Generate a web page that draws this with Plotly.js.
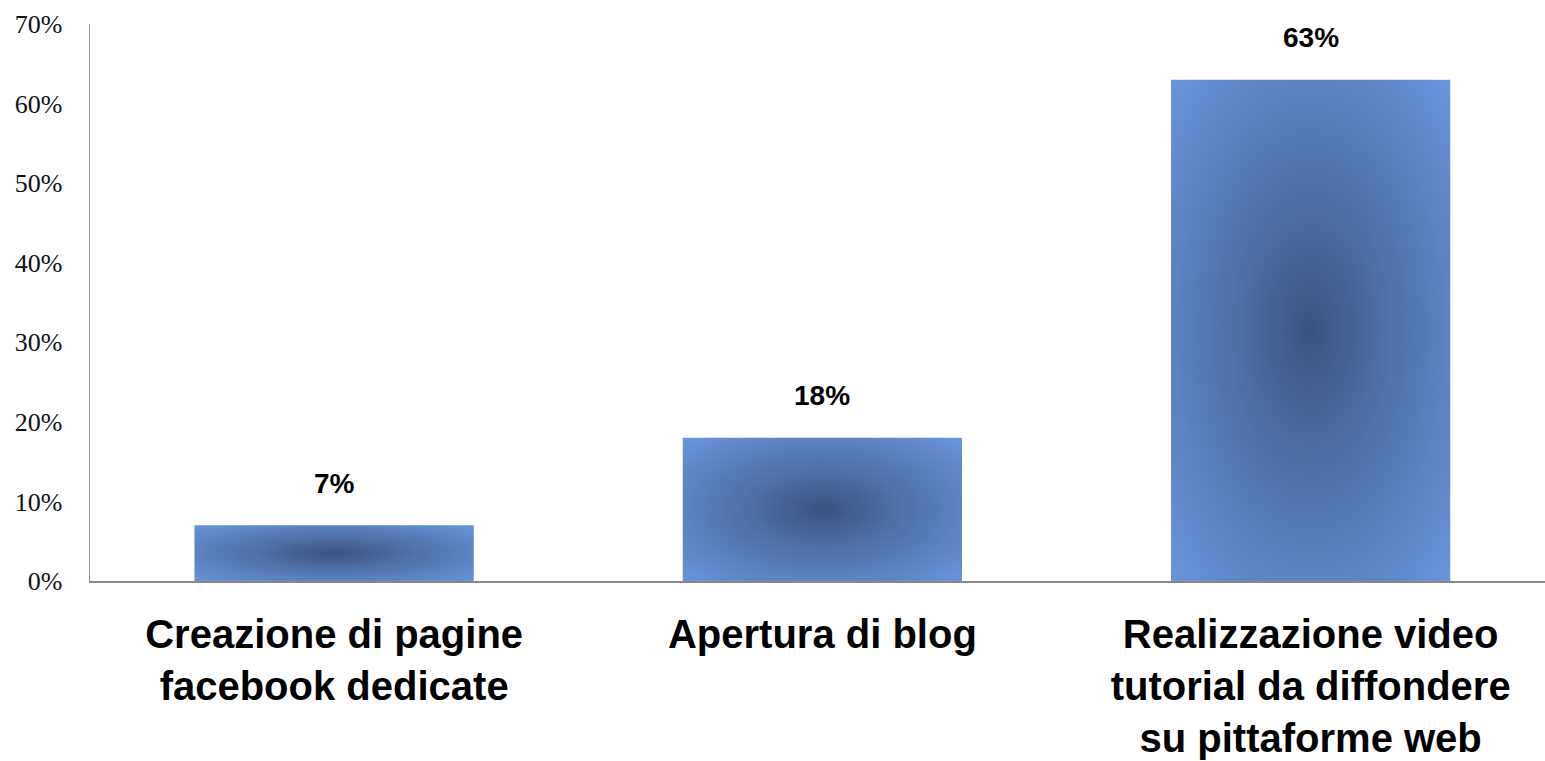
<!DOCTYPE html>
<html>
<head>
<meta charset="utf-8">
<script src="https://cdn.plot.ly/plotly-3.0.1.min.js"></script>
<style>html,body{margin:0;padding:0;background:#fff;}#chart{width:1545px;height:761px;}</style>
</head>
<body>
<div id="chart"></div>
<script>
const categories = [
  "Creazione di pagine<br>facebook dedicate",
  "Apertura di blog",
  "Realizzazione video<br>tutorial da diffondere<br>su pittaforme web"
];
const values = [7, 18, 63];
const valueLabels = ["7%", "18%", "63%"];

const trace = {
  type: 'bar',
  x: categories,
  y: values,
  marker: {color: '#5a80bc', line: {width: 0}},
  hoverinfo: 'none'
};

const annotations = categories.map((c, i) => ({
  x: c, y: values[i], text: valueLabels[i],
  showarrow: false, yanchor: 'middle', yshift: 42,
  font: {family: 'Liberation Sans, Arial, sans-serif', size: 28, color: '#000', weight: 'bold'}
}));

const layout = {
  width: 1545, height: 761,
  margin: {l: 90, r: 0, t: 24, b: 180},
  paper_bgcolor: '#fff', plot_bgcolor: '#fff',
  showlegend: false,
  bargap: 0.428,
  xaxis: {
    range: [-0.5, 2.48],
    showline: true, linecolor: '#888888', linewidth: 2,
    showgrid: false, zeroline: false, ticks: '',
    ticklabelstandoff: 17,
    tickfont: {family: 'Liberation Sans, Arial, sans-serif', size: 40, color: '#000', weight: 'bold'}
  },
  yaxis: {
    range: [0, 70], dtick: 10, ticksuffix: '%',
    showline: true, linecolor: '#999999', linewidth: 1.5,
    showgrid: false, zeroline: false, ticks: '',
    ticklabelstandoff: 21,
    tickfont: {family: 'Liberation Serif, Times New Roman, serif', size: 26, color: '#111'}
  },
  annotations: annotations
};

Plotly.newPlot('chart', [trace], layout, {displayModeBar: false, staticPlot: true}).then(gd => {
  const svg = gd.querySelector('svg.main-svg');
  const ns = 'http://www.w3.org/2000/svg';
  let defs = svg.querySelector('defs');
  if (!defs) { defs = document.createElementNS(ns, 'defs'); svg.insertBefore(defs, svg.firstChild); }
  const g = document.createElementNS(ns, 'radialGradient');
  g.setAttribute('id', 'barGrad');
  g.setAttribute('gradientUnits', 'objectBoundingBox');
  g.setAttribute('cx', '0.5'); g.setAttribute('cy', '0.5'); g.setAttribute('r', '0.71');
  [[0, '#3a5480'], [0.45, '#5075ad'], [1, '#6a95dc']].forEach(([o, c]) => {
    const s = document.createElementNS(ns, 'stop');
    s.setAttribute('offset', o); s.setAttribute('stop-color', c);
    g.appendChild(s);
  });
  defs.appendChild(g);
  gd.querySelectorAll('.bars .point path').forEach(p => { p.style.fill = 'url(#barGrad)'; });
});
</script>
</body>
</html>
